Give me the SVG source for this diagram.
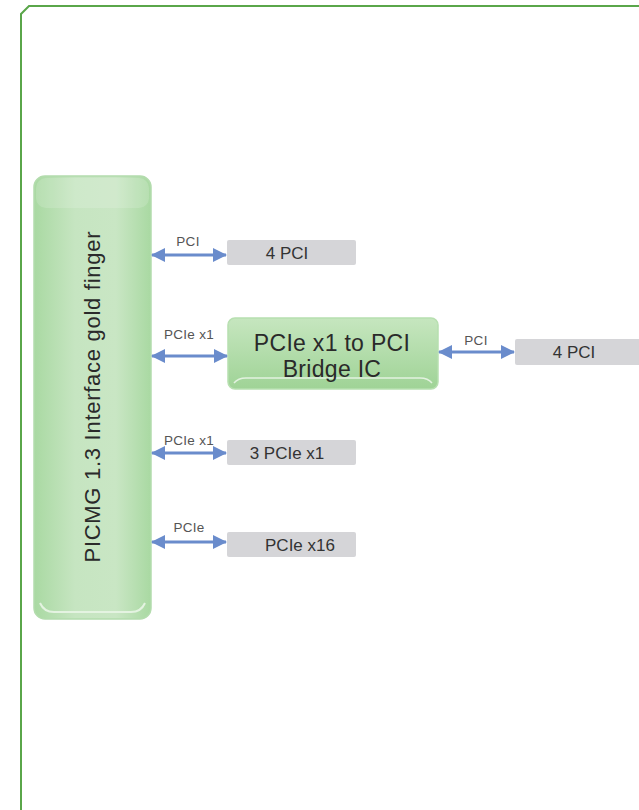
<svg xmlns="http://www.w3.org/2000/svg" width="639" height="810" viewBox="0 0 639 810">
<style>
.lbl{font-family:"Liberation Sans",Arial,sans-serif;font-size:13.5px;fill:#555;text-anchor:middle;letter-spacing:0.3px}
.box{fill:#d5d5d8}
.bt{font-family:"Liberation Sans",Arial,sans-serif;font-size:17px;fill:#333;text-anchor:middle}
.arr{stroke:#6a8ccc;stroke-width:3;fill:none;marker-start:url(#ah);marker-end:url(#ah)}
</style>
<defs>
<marker id="ah" viewBox="0 0 14 14" refX="13" refY="7" markerWidth="14" markerHeight="14" markerUnits="userSpaceOnUse" orient="auto-start-reverse">
<path d="M0,0 L14,7 L0,14 Z" fill="#6a8ccc"/>
</marker>
<linearGradient id="gl" x1="0" y1="0" x2="1" y2="0">
<stop offset="0" stop-color="#a9d9a2"/>
<stop offset="0.35" stop-color="#c6e5c1"/>
<stop offset="0.7" stop-color="#c9e6c4"/>
<stop offset="1" stop-color="#a9d9a2"/>
</linearGradient>
<linearGradient id="gb" x1="0" y1="0" x2="0" y2="1">
<stop offset="0" stop-color="#c6e6bf"/>
<stop offset="1" stop-color="#9fd396"/>
</linearGradient>
</defs>
<path d="M21,810 L21,14 L29,6 L639,6" fill="none" stroke="#5aa64a" stroke-width="2"/>
<g id="gold">
<rect x="34" y="176" width="117" height="443" rx="11" fill="url(#gl)" stroke="#b3dcad" stroke-width="1.5"/>
<rect x="36" y="178" width="113" height="30" rx="10" fill="#ffffff" opacity="0.15"/>
<path d="M40,603 Q44,612 54,612 L131,612 Q141,612 145,603" fill="none" stroke="#e4f3e1" stroke-width="2"/>
<text transform="translate(100,397) rotate(-90)" font-family="'Liberation Sans',Arial,sans-serif" font-size="22" fill="#2a2a2a" text-anchor="middle" textLength="331" lengthAdjust="spacing">PICMG 1.3 Interface gold finger</text>
</g>
<g id="bridge">
<rect x="228" y="318" width="210" height="71" rx="7" fill="url(#gb)" stroke="#b7dfb0" stroke-width="1.5"/>
<path d="M234,383 Q238,378 246,378 L420,378 Q428,378 432,383" fill="none" stroke="#e2f2df" stroke-width="1.5"/>
<text x="332" y="351" font-family="'Liberation Sans',Arial,sans-serif" font-size="23" fill="#2a2a2a" text-anchor="middle" letter-spacing="0.3">PCIe x1 to PCI</text>
<text x="332" y="377" font-family="'Liberation Sans',Arial,sans-serif" font-size="23" fill="#2a2a2a" text-anchor="middle" letter-spacing="0.3">Bridge IC</text>
</g>
<g id="pci4a"><rect class="box" x="227" y="240" width="129" height="25" rx="2"/><text class="bt" x="287" y="259">4 PCI</text></g>
<g id="pci4b"><rect class="box" x="515" y="339" width="130" height="26" rx="2"/><text class="bt" x="574" y="358">4 PCI</text></g>
<g id="pcie3"><rect class="box" x="227" y="440" width="129" height="25" rx="2"/><text class="bt" x="287" y="459">3 PCIe x1</text></g>
<g id="pcie16"><rect class="box" x="227" y="532" width="129" height="25" rx="2"/><text class="bt" x="300" y="551">PCIe x16</text></g>
<g id="connectors">
<line class="arr" x1="152" y1="255" x2="226" y2="255"/>
<text class="lbl" x="188" y="246">PCI</text>
<line class="arr" x1="152" y1="356" x2="227" y2="356"/>
<text class="lbl" x="189" y="339">PCIe x1</text>
<line class="arr" x1="439" y1="352" x2="514" y2="352"/>
<text class="lbl" x="476" y="345">PCI</text>
<line class="arr" x1="152" y1="453" x2="226" y2="453"/>
<text class="lbl" x="189" y="445">PCIe x1</text>
<line class="arr" x1="152" y1="542" x2="226" y2="542"/>
<text class="lbl" x="189" y="532">PCIe</text>
</g>
</svg>
